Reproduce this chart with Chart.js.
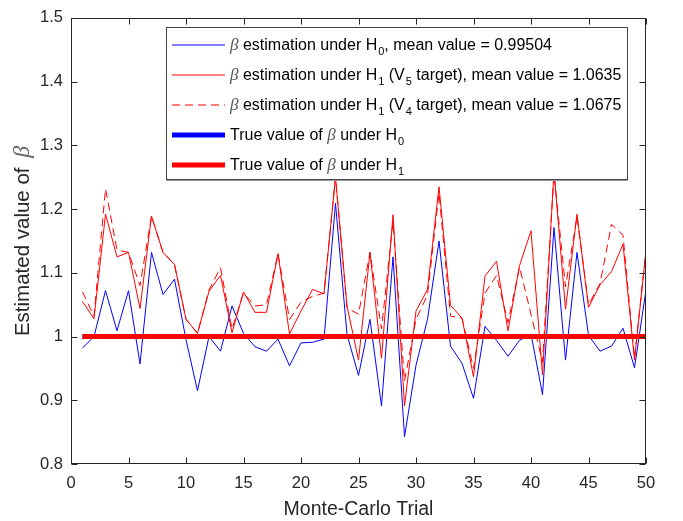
<!DOCTYPE html>
<html>
<head>
<meta charset="utf-8">
<script src="https://cdn.jsdelivr.net/npm/chart.js@4/dist/chart.umd.min.js"></script>
<style>
  body { margin: 0; background: #fff; }
  #wrap { position: relative; width: 683px; height: 521px; }
  #legend {
    position: absolute; left: 166px; top: 27px; width: 462px; height: 153px;
    background: #fff; border: 1px solid #444; box-shadow: 0 1px 0 #999;
    font-family: "Liberation Sans", Arial, sans-serif; font-size: 16px; color: #000;
    padding-top: 2px; box-sizing: border-box;
  }
  .row { height: 30px; display: flex; align-items: center; white-space: nowrap; }
  .row svg { margin-left: 5px; margin-right: 5px; flex: none; }
  .b { font-family: "Liberation Serif", serif; font-style: italic; color: #555; font-size: 17px; }
  sub { font-size: 11px; vertical-align: -5px; line-height: 0; margin-left: 1px; }
</style>
</head>
<body>
<div id="wrap">
  <canvas id="chart" width="683" height="521"></canvas>
  <div id="legend">
    <div class="row"><svg width="53" height="8"><line x1="0" y1="4" x2="53" y2="4" stroke="#0000ff" stroke-width="1"/></svg><span><span class="b">β</span> estimation under H<sub>0</sub>, mean value = 0.99504</span></div>
    <div class="row"><svg width="53" height="8"><line x1="0" y1="4" x2="53" y2="4" stroke="#ff0000" stroke-width="1"/></svg><span><span class="b">β</span> estimation under H<sub>1</sub> (V<sub>5</sub> target), mean value = 1.0635</span></div>
    <div class="row"><svg width="53" height="8"><line x1="0" y1="4" x2="53" y2="4" stroke="#ff0000" stroke-width="1" stroke-dasharray="8 5"/></svg><span><span class="b">β</span> estimation under H<sub>1</sub> (V<sub>4</sub> target), mean value = 1.0675</span></div>
    <div class="row"><svg width="53" height="8"><line x1="0" y1="4" x2="53" y2="4" stroke="#0000ff" stroke-width="5"/></svg><span>True value of <span class="b">β</span> under H<sub>0</sub></span></div>
    <div class="row"><svg width="53" height="8"><line x1="0" y1="4" x2="53" y2="4" stroke="#ff0000" stroke-width="5"/></svg><span>True value of <span class="b">β</span> under H<sub>1</sub></span></div>
  </div>
</div>
<script>
const trials = [1, 2, 3, 4, 5, 6, 7, 8, 9, 10, 11, 12, 13, 14, 15, 16, 17, 18, 19, 20,
  21, 22, 23, 24, 25, 26, 27, 28, 29, 30, 31, 32, 33, 34, 35, 36, 37, 38, 39, 40,
  41, 42, 43, 44, 45, 46, 47, 48, 49, 50];

// beta estimation under H0
const betaH0 = [0.982, 1.000, 1.072, 1.009, 1.072, 0.957, 1.132, 1.066, 1.090, 0.995,
  0.915, 1.000, 0.977, 1.048, 1.005, 0.984, 0.977, 0.996, 0.954, 0.990,
  0.991, 0.996, 1.209, 1.003, 0.939, 1.027, 0.891, 1.125, 0.843, 0.955,
  1.027, 1.150, 0.985, 0.958, 0.903, 1.016, 0.994, 0.969, 0.994, 1.004,
  0.909, 1.171, 0.963, 1.132, 1.002, 0.977, 0.985, 1.013, 0.951, 1.073];

// beta estimation under H1, V5 target
const betaV5 = [1.055, 1.028, 1.192, 1.125, 1.132, 1.044, 1.189, 1.132, 1.113, 1.027,
  1.005, 1.071, 1.096, 1.006, 1.070, 1.038, 1.038, 1.130, 1.004, 1.040,
  1.074, 1.067, 1.250, 1.048, 0.963, 1.132, 0.966, 1.191, 0.891, 1.040,
  1.074, 1.235, 1.049, 1.029, 0.937, 1.095, 1.118, 1.009, 1.111, 1.166,
  0.940, 1.260, 1.043, 1.192, 1.046, 1.081, 1.102, 1.145, 0.963, 1.135];

// beta estimation under H1, V4 target
const betaV4 = [1.070, 1.032, 1.232, 1.136, 1.132, 1.080, 1.189, 1.132, 1.113, 1.027,
  1.005, 1.073, 1.108, 1.012, 1.068, 1.048, 1.050, 1.130, 1.027, 1.054,
  1.063, 1.068, 1.250, 1.045, 1.035, 1.132, 1.012, 1.180, 0.930, 1.027,
  1.065, 1.225, 1.032, 1.029, 0.950, 1.068, 1.096, 1.022, 1.109, 1.035,
  0.960, 1.255, 1.078, 1.188, 1.050, 1.083, 1.176, 1.159, 0.966, 1.135];

// true values of beta
const trueX = [1, 50];
const trueH0 = [1, 1];
const trueH1 = [1, 1];

const xTicks = [0, 5, 10, 15, 20, 25, 30, 35, 40, 45, 50];
const yTicks = [0.8, 0.9, 1.0, 1.1, 1.2, 1.3, 1.4, 1.5];

const axisColor = "#262626";
const sans = '"Liberation Sans", Arial, sans-serif';

function pts(xs, ys) {
  return xs.map((x, i) => ({ x: x, y: ys[i] }));
}

// box round the plot with inward ticks, like matlab
const boxTicks = {
  id: "boxTicks",
  afterDraw(chart) {
    const { ctx, chartArea: a, scales } = chart;
    const l = Math.round(a.left) + 0.5, r = Math.round(a.right) - 0.5;
    const t = Math.round(a.top) + 0.5, b = Math.round(a.bottom) - 0.5;
    ctx.save();
    ctx.strokeStyle = axisColor;
    ctx.lineWidth = 1;
    ctx.strokeRect(l, t, r - l, b - t);
    ctx.beginPath();
    xTicks.forEach((v) => {
      const px = Math.round(scales.x.getPixelForValue(v)) + 0.5;
      ctx.moveTo(px, b); ctx.lineTo(px, b - 6);
      ctx.moveTo(px, t); ctx.lineTo(px, t + 6);
    });
    yTicks.forEach((v) => {
      const py = Math.round(scales.y.getPixelForValue(v)) + 0.5;
      ctx.moveTo(l, py); ctx.lineTo(l + 6, py);
      ctx.moveTo(r, py); ctx.lineTo(r - 6, py);
    });
    ctx.stroke();
    ctx.restore();
  },
};

// y title with an italic beta, drawn by hand
const yTitle = {
  id: "yTitle",
  afterDraw(chart) {
    const { ctx, chartArea: a } = chart;
    const main = "Estimated value of ";
    ctx.save();
    ctx.translate(23, (a.top + a.bottom) / 2);
    ctx.rotate(-Math.PI / 2);
    ctx.textBaseline = "middle";
    ctx.font = "20.5px " + sans;
    const w1 = ctx.measureText(main).width;
    ctx.font = "italic 24px 'Liberation Serif', serif";
    const w2 = ctx.measureText("β").width;
    let x = -(w1 + w2 + 4) / 2;
    ctx.font = "20.5px " + sans;
    ctx.fillStyle = axisColor;
    ctx.fillText(main, x, 0);
    ctx.font = "italic 24px 'Liberation Serif', serif";
    ctx.fillStyle = "#666";
    ctx.fillText("β", x + w1 + 4, 0);
    ctx.restore();
  },
};

Chart.defaults.font.family = sans;
Chart.defaults.color = axisColor;

new Chart(document.getElementById("chart"), {
  type: "line",
  data: {
    datasets: [
      { data: pts(trueX, trueH1), borderColor: "#ff0000", borderWidth: 5, order: 0 },
      { data: pts(trueX, trueH0), borderColor: "#0000ff", borderWidth: 5, order: 1 },
      { data: pts(trials, betaV4), borderColor: "#ff0000", borderWidth: 1, borderDash: [8, 5], order: 2 },
      { data: pts(trials, betaV5), borderColor: "#ff0000", borderWidth: 1, order: 3 },
      { data: pts(trials, betaH0), borderColor: "#0000ff", borderWidth: 1, order: 4 },
    ],
  },
  options: {
    responsive: false,
    animation: false,
    layout: { padding: { left: 0, right: 37, top: 12, bottom: 0 } },
    elements: { point: { radius: 0 }, line: { tension: 0, borderCapStyle: "butt" } },
    plugins: { legend: { display: false }, tooltip: { enabled: false } },
    scales: {
      x: {
        type: "linear", min: 0, max: 50,
        grid: { display: false, drawTicks: false },
        border: { display: false },
        afterBuildTicks: (s) => { s.ticks = xTicks.map((v) => ({ value: v })); },
        afterFit: (s) => { s.height = 57; },
        ticks: { font: { size: 16.5 }, padding: 10, maxRotation: 0 },
        title: { display: true, text: "Monte-Carlo Trial", font: { size: 19.5 }, padding: { top: 0, bottom: 0 } },
      },
      y: {
        type: "linear", min: 0.8, max: 1.5,
        grid: { display: false, drawTicks: false },
        border: { display: false },
        afterBuildTicks: (s) => { s.ticks = yTicks.map((v) => ({ value: v })); },
        afterFit: (s) => { s.width = 71; },
        ticks: { font: { size: 16.5 }, padding: 8, callback: (v) => String(Math.round(v * 10) / 10) },
      },
    },
  },
  plugins: [boxTicks, yTitle],
});
</script>
</body>
</html>
